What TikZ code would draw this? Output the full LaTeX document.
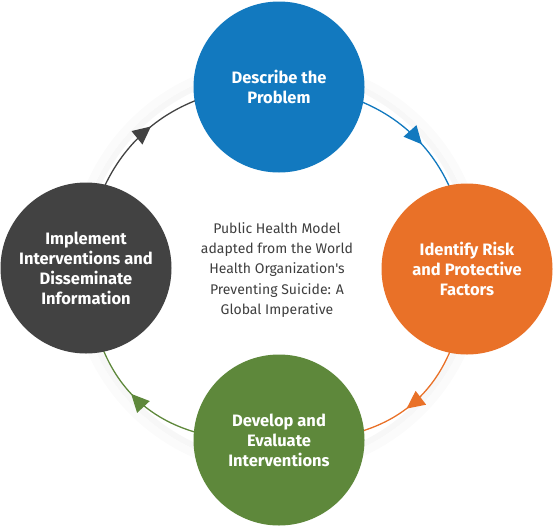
\documentclass[tikz,border=0pt]{standalone}
\usepackage{fontspec}
\setmainfont{Fira Sans}
\newfontfamily\modelfont{Fira Sans}
\usetikzlibrary{arrows.meta,decorations.markings,backgrounds}
\definecolor{phblue}{RGB}{18,121,191}
\definecolor{phorange}{RGB}{233,113,40}
\definecolor{phgreen}{RGB}{94,136,59}
\definecolor{phdark}{RGB}{66,66,66}
\definecolor{phtext}{RGB}{62,62,62}

\begin{document}
\begin{tikzpicture}[x=1pt,y=-1pt,
  stage/.style={circle,minimum size=171pt,inner sep=0pt,align=center,text=white,
              font=\fontsize{16.5}{20}\selectfont\bfseries},
  ring/.style={line width=1.3pt,postaction={decorate},
              decoration={markings,mark=at position 0.54 with {\arrow{Triangle[length=18pt,width=17pt]}}}}]
  \useasboundingbox (0,0) rectangle (553,525);
  \coordinate (hub) at (277,267);
  \node[stage,fill=phblue](n1) at (279,87) {Describe the\\Problem};
  \node[stage,fill=phorange](n2) at (467,269) {Identify Risk\\and Protective\\Factors};
  \node[stage,fill=phgreen](n3) at (279,440) {Develop and\\Evaluate\\Interventions};
  \node[stage,fill=phdark](n4) at (86,268) {Implement\\Interventions and\\Disseminate\\Information};
  \node[align=center,text=phtext,font=\modelfont\fontsize{14}{20.3}\selectfont](model) at (277,270)
    {Public Health Model\\adapted from the World\\Health Organization's\\Preventing Suicide: A\\Global Imperative};
  \begin{scope}[on background layer]
    % soft halo round the cycle
    \draw[black!3,line width=6pt] (hub) circle[radius=197];
    \draw[black!1.5,line width=8pt] (hub) circle[radius=204];
    \draw[ring,phblue](n1.center) to[bend left=45,looseness=1.08] (n2.center);
    \draw[ring,phorange](n2.center) to[bend left=45,looseness=1.2] (n3.center);
    \draw[ring,phgreen](n3.center) to[bend left=45,looseness=1.2] (n4.center);
    \draw[ring,phdark](n4.center) to[bend left=45,looseness=1.08] (n1.center);
  \end{scope}
\end{tikzpicture}
\end{document}
